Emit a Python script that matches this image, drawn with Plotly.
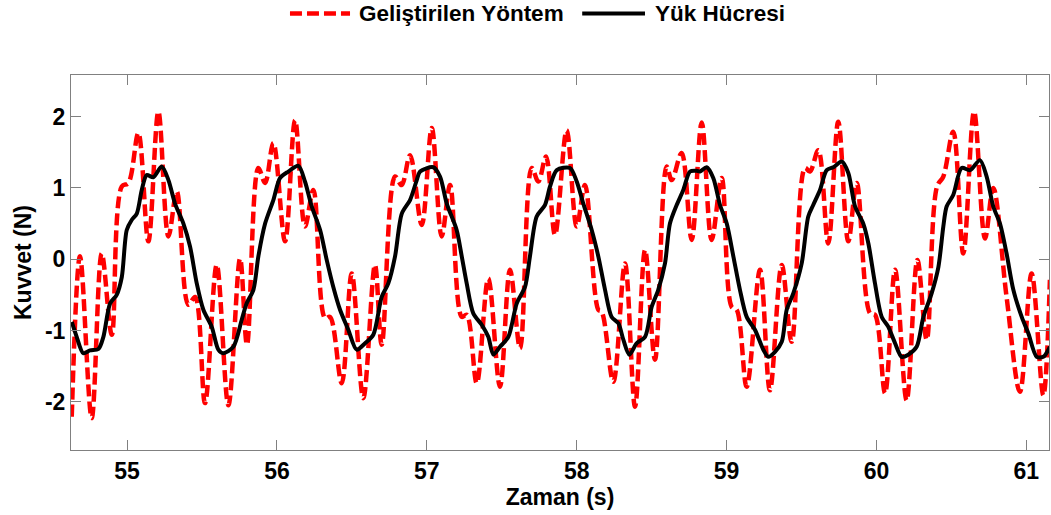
import plotly.graph_objects as go

# Developed method (estimated force), turning points of the signal
t_method = [54.631, 54.686, 54.764, 54.831, 54.898, 54.965, 55.009, 55.075, 55.142, 55.209,
            55.276, 55.332, 55.409, 55.454, 55.520, 55.598, 55.676, 55.754, 55.800, 55.876,
            55.921, 55.976, 56.054, 56.121, 56.187, 56.243, 56.321, 56.354, 56.432, 56.499,
            56.576, 56.654, 56.699, 56.788, 56.832, 56.888, 56.966, 57.033, 57.099, 57.155,
            57.233, 57.266, 57.333, 57.410, 57.488, 57.555, 57.622, 57.700, 57.744, 57.795,
            57.855, 57.933, 58.000, 58.055, 58.144, 58.167, 58.244, 58.322, 58.389, 58.456,
            58.522, 58.600, 58.634, 58.700, 58.767, 58.834, 58.900, 58.967, 59.034, 59.067,
            59.134, 59.223, 59.289, 59.368, 59.434, 59.523, 59.556, 59.612, 59.678, 59.745,
            59.812, 59.868, 59.957, 59.990, 60.057, 60.124, 60.201, 60.273, 60.335, 60.404,
            60.446, 60.512, 60.579, 60.651, 60.724, 60.779, 60.868, 60.957, 61.035, 61.113,
            61.157]
f_method = [-2.21, 0.04, -2.23, 0.08, -1.06, 1.02, 1.07, 1.77, 0.25, 2.07,
            0.32, 0.95, -0.64, -0.53, -2.02, -0.08, -2.05, 0.01, -1.20, 1.28,
            1.07, 1.63, 0.25, 1.95, 0.46, 0.97, -0.83, -0.81, -1.74, -0.20,
            -1.95, -0.08, -1.20, 1.16, 1.04, 1.46, 0.48, 1.84, 0.32, 1.04,
            -0.81, -0.78, -1.74, -0.27, -1.79, -0.15, -1.25, 1.28, 1.09, 1.44,
            0.34, 1.81, 0.46, 1.04, -0.71, -0.74, -1.72, -0.06, -2.07, 0.13,
            -1.41, 1.30, 1.11, 1.49, 0.27, 1.92, 0.27, 1.14, -0.67, -0.71,
            -1.79, -0.15, -1.84, -0.08, -1.16, 1.28, 1.23, 1.53, 0.22, 1.93,
            0.25, 1.07, -0.76, -0.78, -1.88, -0.15, -1.98, -0.01, -1.13, 1.02,
            1.16, 1.79, 0.08, 2.07, 0.29, 1.00, -0.53, -1.86, -0.20, -1.91,
            -0.29]

# Load cell reference force
t_cell = [54.631, 54.664, 54.708, 54.753, 54.809, 54.842, 54.887, 54.931, 54.965, 54.998,
          55.031, 55.065, 55.098, 55.131, 55.175, 55.231, 55.276, 55.320, 55.376, 55.420,
          55.465, 55.509, 55.565, 55.609, 55.642, 55.709, 55.765, 55.798, 55.843, 55.876,
          55.921, 55.976, 56.021, 56.076, 56.143, 56.187, 56.232, 56.288, 56.332, 56.376,
          56.421, 56.476, 56.532, 56.588, 56.643, 56.699, 56.743, 56.788, 56.833, 56.888,
          56.933, 56.955, 57.043, 57.088, 57.133, 57.199, 57.233, 57.266, 57.310, 57.366,
          57.410, 57.444, 57.488, 57.544, 57.600, 57.655, 57.688, 57.733, 57.788, 57.822,
          57.867, 57.955, 58.000, 58.044, 58.100, 58.144, 58.189, 58.233, 58.278, 58.311,
          58.351, 58.400, 58.456, 58.500, 58.544, 58.589, 58.622, 58.667, 58.711, 58.756,
          58.800, 58.823, 58.867, 58.911, 58.956, 59.001, 59.045, 59.089, 59.134, 59.189,
          59.245, 59.278, 59.323, 59.368, 59.401, 59.445, 59.501, 59.545, 59.578, 59.623,
          59.668, 59.712, 59.768, 59.812, 59.857, 59.912, 59.946, 59.990, 60.035, 60.079,
          60.124, 60.168, 60.212, 60.268, 60.313, 60.368, 60.413, 60.446, 60.468, 60.512,
          60.568, 60.624, 60.690, 60.735, 60.779, 60.824, 60.868, 60.913, 60.969, 61.013,
          61.069, 61.113, 61.157]
f_cell = [-0.88, -1.09, -1.32, -1.28, -1.26, -1.09, -0.62, -0.50, -0.25, 0.41,
          0.55, 0.64, 0.97, 1.18, 1.15, 1.30, 1.11, 0.78, 0.50, 0.18,
          -0.34, -0.71, -0.95, -1.27, -1.32, -1.23, -0.85, -0.62, -0.43, 0.04,
          0.50, 0.83, 1.14, 1.23, 1.31, 1.09, 0.74, 0.41, -0.01, -0.39,
          -0.71, -0.99, -1.27, -1.18, -1.06, -0.53, -0.34, 0.04, 0.64, 0.83,
          1.11, 1.23, 1.29, 1.16, 0.78, 0.41, 0.04, -0.34, -0.76, -0.92,
          -1.09, -1.34, -1.23, -1.09, -0.62, -0.39, 0.04, 0.60, 0.76, 1.02,
          1.25, 1.28, 1.09, 0.78, 0.41, 0.04, -0.43, -0.81, -0.90, -1.13,
          -1.34, -1.18, -1.09, -0.67, -0.43, -0.06, 0.50, 0.76, 0.97, 1.23,
          1.24, 1.23, 1.29, 1.14, 0.76, 0.50, 0.04, -0.43, -0.81, -0.99,
          -1.27, -1.37, -1.30, -1.16, -0.71, -0.48, -0.06, 0.60, 0.76, 0.97,
          1.25, 1.29, 1.37, 1.21, 0.74, 0.50, 0.22, -0.34, -0.81, -0.95,
          -1.18, -1.37, -1.34, -1.23, -0.81, -0.48, -0.11, 0.46, 0.74, 0.90,
          1.28, 1.25, 1.39, 1.16, 0.74, 0.50, 0.08, -0.43, -0.81, -1.04,
          -1.37, -1.37, -1.23]

x_ticks = [55, 56, 57, 58, 59, 60, 61]
y_ticks = [-2, -1, 0, 1, 2]
legend_names = ["Geliştirilen Yöntem", "Yük Hücresi"]

FONT = "Liberation Sans, Arial, sans-serif"
FONT_SIZE = 23
RED = "#ff0000"
RED_DASH = "12px,5px"
AXIS_COLOR = "#808080"


def bold_font(size=FONT_SIZE):
    return dict(family=FONT, size=size, color="black", weight="bold")


fig = go.Figure()
fig.add_trace(go.Scatter(
    x=t_method, y=f_method, mode="lines", name=legend_names[0],
    line=dict(color=RED, width=4.5, dash=RED_DASH, shape="spline", smoothing=1.0),
    showlegend=False,
))
fig.add_trace(go.Scatter(
    x=t_cell, y=f_cell, mode="lines", name=legend_names[1],
    line=dict(color="black", width=4, shape="spline", smoothing=0.8),
    showlegend=False,
))

axis_common = dict(
    showline=True, linecolor=AXIS_COLOR, linewidth=1, mirror="ticks",
    ticks="inside", ticklen=10, tickcolor=AXIS_COLOR, tickwidth=1,
    showgrid=False, zeroline=False,
    tickfont=bold_font(),
)

fig.update_xaxes(
    range=[54.626, 61.151], tickvals=x_ticks, ticktext=[str(v) for v in x_ticks],
    title=dict(text="Zaman (s)", font=bold_font(), standoff=4),
    **axis_common,
)
fig.update_yaxes(
    range=[-2.678, 2.585], tickvals=y_ticks, ticktext=[str(v) for v in y_ticks],
    title=dict(text="Kuvvet (N)", font=bold_font(), standoff=6),
    **axis_common,
)

# Legend drawn above the axes: line samples plus labels
leg_y = 1.164
fig.add_shape(type="line", xref="paper", yref="paper", x0=0.2239, x1=0.2853, y0=leg_y, y1=leg_y,
              line=dict(color=RED, width=4.5, dash=RED_DASH))
fig.add_shape(type="line", xref="paper", yref="paper", x0=0.5227, x1=0.5869, y0=leg_y, y1=leg_y,
              line=dict(color="black", width=4))
for xpos, label in zip([0.2924, 0.5951], legend_names):
    fig.add_annotation(x=xpos, y=leg_y, xref="paper", yref="paper", text=label,
                       showarrow=False, xanchor="left", yanchor="middle",
                       font=bold_font(22.5))

fig.update_layout(
    width=1051, height=515,
    margin=dict(l=71, r=2, t=75, b=65),
    plot_bgcolor="white", paper_bgcolor="white",
    showlegend=False,
)

fig.write_html("out.html")
